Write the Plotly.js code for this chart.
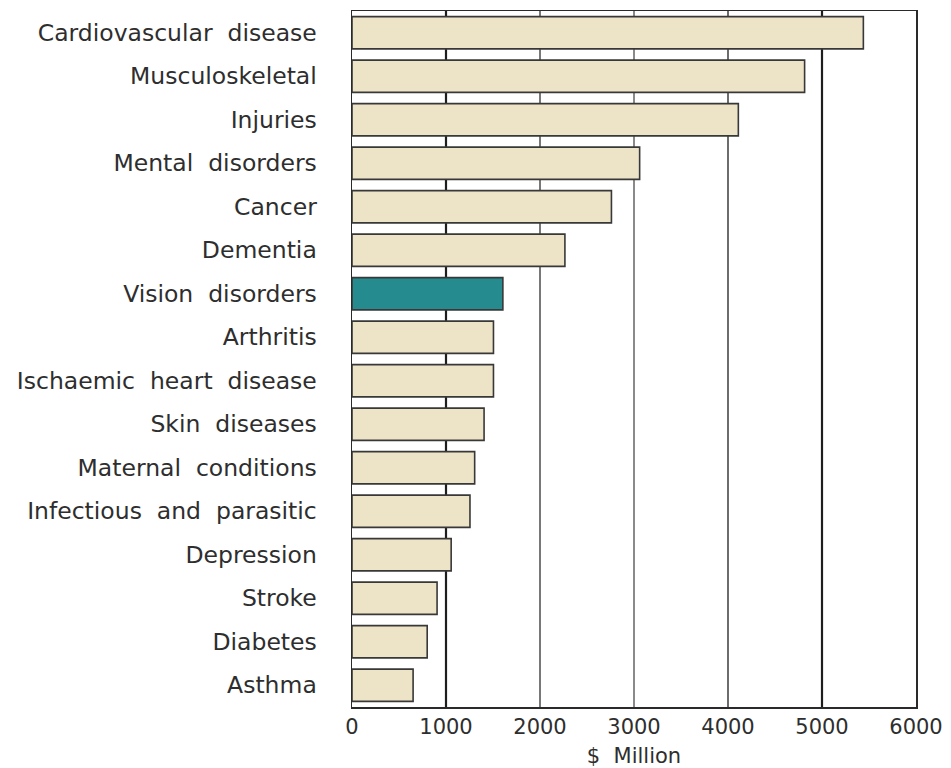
<!DOCTYPE html>
<html>
<head>
<meta charset="utf-8">
<script src="https://cdn.plot.ly/plotly-3.0.1.min.js"></script>
<style>
  html, body { margin: 0; padding: 0; background: #ffffff; }
  #chart { width: 951px; height: 768px; }
</style>
</head>
<body>
<div id="chart"></div>
<script>
// Categories, top to bottom (double spaces mimic the wide word spacing of the original)
const categories = [
    'Cardiovascular  disease',
    'Musculoskeletal',
    'Injuries',
    'Mental  disorders',
    'Cancer',
    'Dementia',
    'Vision  disorders',
    'Arthritis',
    'Ischaemic  heart  disease',
    'Skin  diseases',
    'Maternal  conditions',
    'Infectious  and  parasitic',
    'Depression',
    'Stroke',
    'Diabetes',
    'Asthma'
];

// Cost, $ million
const costMillion = [5440, 4815, 4110, 3060, 2760, 2265, 1605, 1505, 1505, 1405, 1305, 1255, 1055, 905, 800, 650];

const highlighted = 'Vision  disorders';

// x axis ticks / reference lines
const xTicks = [0, 1000, 2000, 3000, 4000, 5000, 6000];
const refLines = [1000, 2000, 3000, 4000, 5000];

// Reference line styles (the original mixes heavy, thin and grey rules)
const refLineStyle = {
    1000: {color: '#1e1e1e', width: 2.2},
    2000: {color: '#1e1e1e', width: 1.2},
    3000: {color: '#8a8a8a', width: 2},
    4000: {color: '#1e1e1e', width: 1.3},
    5000: {color: '#1e1e1e', width: 2.2}
};

const BAR_FILL = '#ede3c7';
const BAR_HIGHLIGHT = '#268b8f';
const TEXT_COLOR = '#2e2e2e';
const FONT = '"DejaVu Sans", "Liberation Sans", sans-serif';

const barColors = categories.map(c => c === highlighted ? BAR_HIGHLIGHT : BAR_FILL);

const costTrace = {
    type: 'bar',
    orientation: 'h',
    x: costMillion,
    y: categories,
    marker: {
        color: barColors,
        line: {color: '#383838', width: 1.6}
    },
    hovertemplate: '%{y}: $%{x} million<extra></extra>'
};

// vertical rules drawn behind the bars
const shapes = refLines.map(v => ({
    type: 'line',
    xref: 'x',
    yref: 'paper',
    x0: v, x1: v,
    y0: 0, y1: 1,
    layer: 'below',
    line: {color: refLineStyle[v].color, width: refLineStyle[v].width}
}));

const layout = {
    width: 951,
    height: 768,
    paper_bgcolor: '#ffffff',
    plot_bgcolor: '#ffffff',
    font: {family: FONT, color: TEXT_COLOR, size: 21},
    margin: {l: 352, r: 35, t: 11, b: 61},
    showlegend: false,
    bargap: 0.26,
    xaxis: {
        range: [0, 6000],
        tickvals: xTicks,
        ticktext: xTicks.map(String),
        showgrid: false,
        zeroline: false,
        showline: true,
        mirror: true,
        linecolor: '#2a2a2a',
        linewidth: 1.5,
        ticks: '',
        tickfont: {size: 21, color: TEXT_COLOR},
        title: {
            text: '$  Million',
            font: {size: 21, color: TEXT_COLOR},
            standoff: 19
        }
    },
    yaxis: {
        categoryorder: 'array',
        categoryarray: categories.slice().reverse(),
        showgrid: false,
        zeroline: false,
        showline: true,
        mirror: true,
        linecolor: '#2a2a2a',
        linewidth: 1.5,
        ticks: '',
        ticklabelstandoff: 29,
        tickfont: {size: 23.5, color: TEXT_COLOR}
    },
    shapes: shapes
};

Plotly.newPlot('chart', [costTrace], layout, {displayModeBar: false, staticPlot: true});
</script>
</body>
</html>
